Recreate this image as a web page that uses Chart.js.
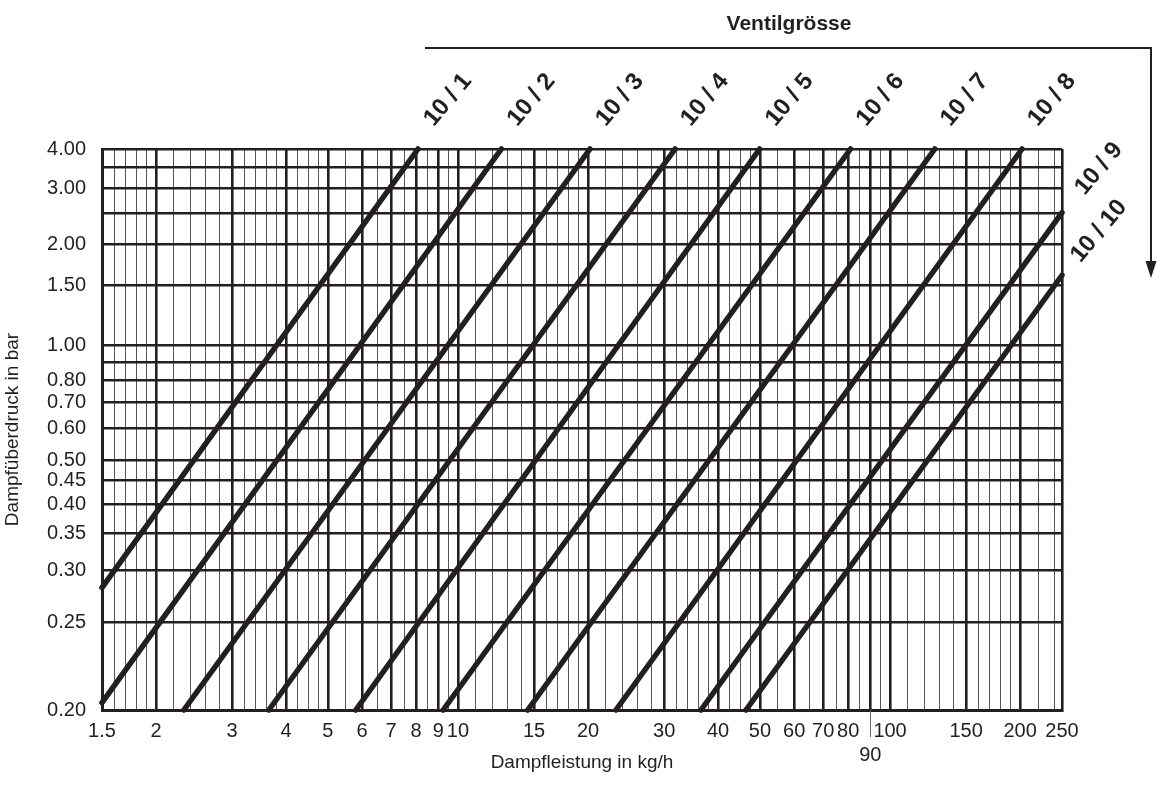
<!DOCTYPE html>
<html><head><meta charset="utf-8">
<script src="https://cdn.jsdelivr.net/npm/chart.js@4.4.1/dist/chart.umd.min.js"></script>
<style>html,body{margin:0;padding:0;background:#fff;}#wrap{position:relative;width:1157px;height:794px;}</style>
</head><body><div id="wrap"><canvas id="c" width="1157" height="794"></canvas></div>
<script>
// ---------- data ----------
const xMajorTicks = [1.5,2,3,4,5,6,7,8,9,10,15,20,30,40,50,60,70,80,90,100,150,200,250];
const xMinorTicks = [1.6,1.7,1.8,1.9,2.2,2.4,2.6,2.8,3.2,3.4,3.6,3.8,4.25,4.5,4.75,5.5,6.5,7.5,8.5,9.5,
  11,12,13,14,16,17,18,19,22,24,26,28,32,34,36,38,42.5,45,47.5,55,65,75,85,95,
  110,120,130,140,160,170,180,190,220,240];
const xTickLabels = ['1.5','2','3','4','5','6','7','8','9','10','15','20','30','40','50','60','70','80','90','100','150','200','250'];
const yTickValues = [0.2,0.25,0.3,0.35,0.4,0.45,0.5,0.6,0.7,0.8,0.9,1.0,1.5,2.0,2.5,3.0,3.5,4.0];
const yTickLabels = ['0.20','0.25','0.30','0.35','0.40','0.45','0.50','0.60','0.70','0.80','','1.00','1.50','2.00','','3.00','','4.00'];
const valveSizes = ['10 / 1','10 / 2','10 / 3','10 / 4','10 / 5','10 / 6','10 / 7','10 / 8','10 / 9','10 / 10'];
const lineStartX = [1.5, 1.5, 2.32, 3.65, 5.80, 9.24, 14.5, 23.2, 36.5, 46.4];
const lineStartP = [0.281, 0.203, 0.2, 0.2, 0.2, 0.2, 0.2, 0.2, 0.2, 0.2];
const lineEndX   = [8.08, 12.6, 20.2, 31.8, 49.9, 81.0, 126.9, 202, 250, 250];
const lineEndP   = [4, 4, 4, 4, 4, 4, 4, 4, 2.51, 1.61];

// ---------- style ----------
const FONT = "'Liberation Sans Narrow','Arial Narrow','Liberation Sans',Arial,sans-serif";
const INK = '#231f20';
const P_SHIFT = 0.148;                 // pressure-axis scale: log10(p - P_SHIFT)
const T = p => Math.log10(p - P_SHIFT);

const xGrid = xMajorTicks.concat(xMinorTicks).sort((a,b)=>a-b);
const isMajorX = v => xMajorTicks.some(m => Math.abs(m - v) < 1e-9);

const datasets = valveSizes.map((lab, i) => ({
  label: lab,
  data: [{x: lineStartX[i], y: T(lineStartP[i])}, {x: lineEndX[i], y: T(lineEndP[i])}],
  borderColor: INK, borderWidth: 5.5, pointRadius: 0, borderCapStyle: 'round',
  fill: false, clip: false, tension: 0
}));

const annotations = {
  id: 'annotations',
  afterDraw(chart) {
    const ctx = chart.ctx, xs = chart.scales.x, ys = chart.scales.y;
    ctx.save();
    // extension tick under 90
    const x90 = Math.round(xs.getPixelForValue(90)) + 0.5;
    ctx.strokeStyle = '#666'; ctx.lineWidth = 1;
    ctx.beginPath(); ctx.moveTo(x90, ys.bottom); ctx.lineTo(x90, ys.bottom + 27); ctx.stroke();
    // valve size labels
    ctx.fillStyle = INK;
    ctx.font = `bold 24px ${FONT}`;
    ctx.textAlign = 'center'; ctx.textBaseline = 'middle';
    valveSizes.forEach((lab, i) => {
      const px = xs.getPixelForValue(lineEndX[i]);
      const py = ys.getPixelForValue(T(lineEndP[i]));
      const atTop = lineEndP[i] >= 4;
      const dx = atTop ? 30 : 37, dy = atTop ? -49 : -44;
      ctx.save(); ctx.translate(px + dx, py + dy); ctx.rotate(-50 * Math.PI / 180);
      ctx.fillText(lab, 0, 0); ctx.restore();
    });
    // Ventilgrösse header + arrow
    ctx.font = `bold 21px ${FONT}`;
    ctx.fillText('Ventilgrösse', 789, 24);
    ctx.strokeStyle = INK; ctx.lineWidth = 2;
    ctx.beginPath(); ctx.moveTo(425, 48); ctx.lineTo(1151, 48); ctx.lineTo(1151, 264); ctx.stroke();
    ctx.beginPath(); ctx.moveTo(1145.5, 261); ctx.lineTo(1156.5, 261); ctx.lineTo(1151, 278); ctx.closePath(); ctx.fill();
    ctx.restore();
  }
};

new Chart(document.getElementById('c'), {
  type: 'line',
  data: { datasets },
  options: {
    responsive: false, animation: false, devicePixelRatio: 1,
    layout: { padding: { top: 149, right: 95, left: 0, bottom: 0 } },
    plugins: { legend: { display: false }, tooltip: { enabled: false } },
    scales: {
      x: {
        type: 'logarithmic', position: 'bottom', min: 1.5, max: 250, bounds: 'data',
        afterBuildTicks: s => { s.ticks = xGrid.map(v => ({ value: v })); },
        afterFit: s => { s.height = 84; },
        ticks: {
          autoSkip: false, maxRotation: 0, minRotation: 0, padding: 9, color: INK,
          font: { family: FONT, size: 20 },
          callback: (v) => {
            const k = xMajorTicks.findIndex(m => Math.abs(m - v) < 1e-9);
            if (k < 0) return '';
            return xTickLabels[k] === '90' ? ['', '90'] : xTickLabels[k];
          }
        },
        grid: {
          drawTicks: false,
          color: c => (c.tick && isMajorX(c.tick.value)) ? INK : '#555',
          lineWidth: c => (c.tick && isMajorX(c.tick.value)) ? 2.6 : 1
        },
        border: { display: true, color: INK, width: 3 },
        title: { display: true, text: 'Dampfleistung in kg/h', color: INK,
          font: { family: FONT, size: 19 }, padding: { top: 0, bottom: 20 } }
      },
      y: {
        type: 'linear', position: 'left', min: T(0.2), max: T(4), bounds: 'data',
        afterBuildTicks: s => { s.ticks = yTickValues.map(p => ({ value: T(p) })); },
        afterFit: s => { s.width = 102; },
        ticks: {
          autoSkip: false, padding: 16, color: INK,
          font: { family: FONT, size: 20 },
          callback: (v, i) => yTickLabels[i]
        },
        grid: { drawTicks: false, color: INK, lineWidth: 2.6 },
        border: { display: true, color: INK, width: 3 },
        title: { display: true, text: 'Dampfüberdruck in bar', color: INK,
          font: { family: FONT, size: 19 }, padding: { top: 1, bottom: 0 } }
      }
    }
  },
  plugins: [annotations]
});
</script></body></html>
